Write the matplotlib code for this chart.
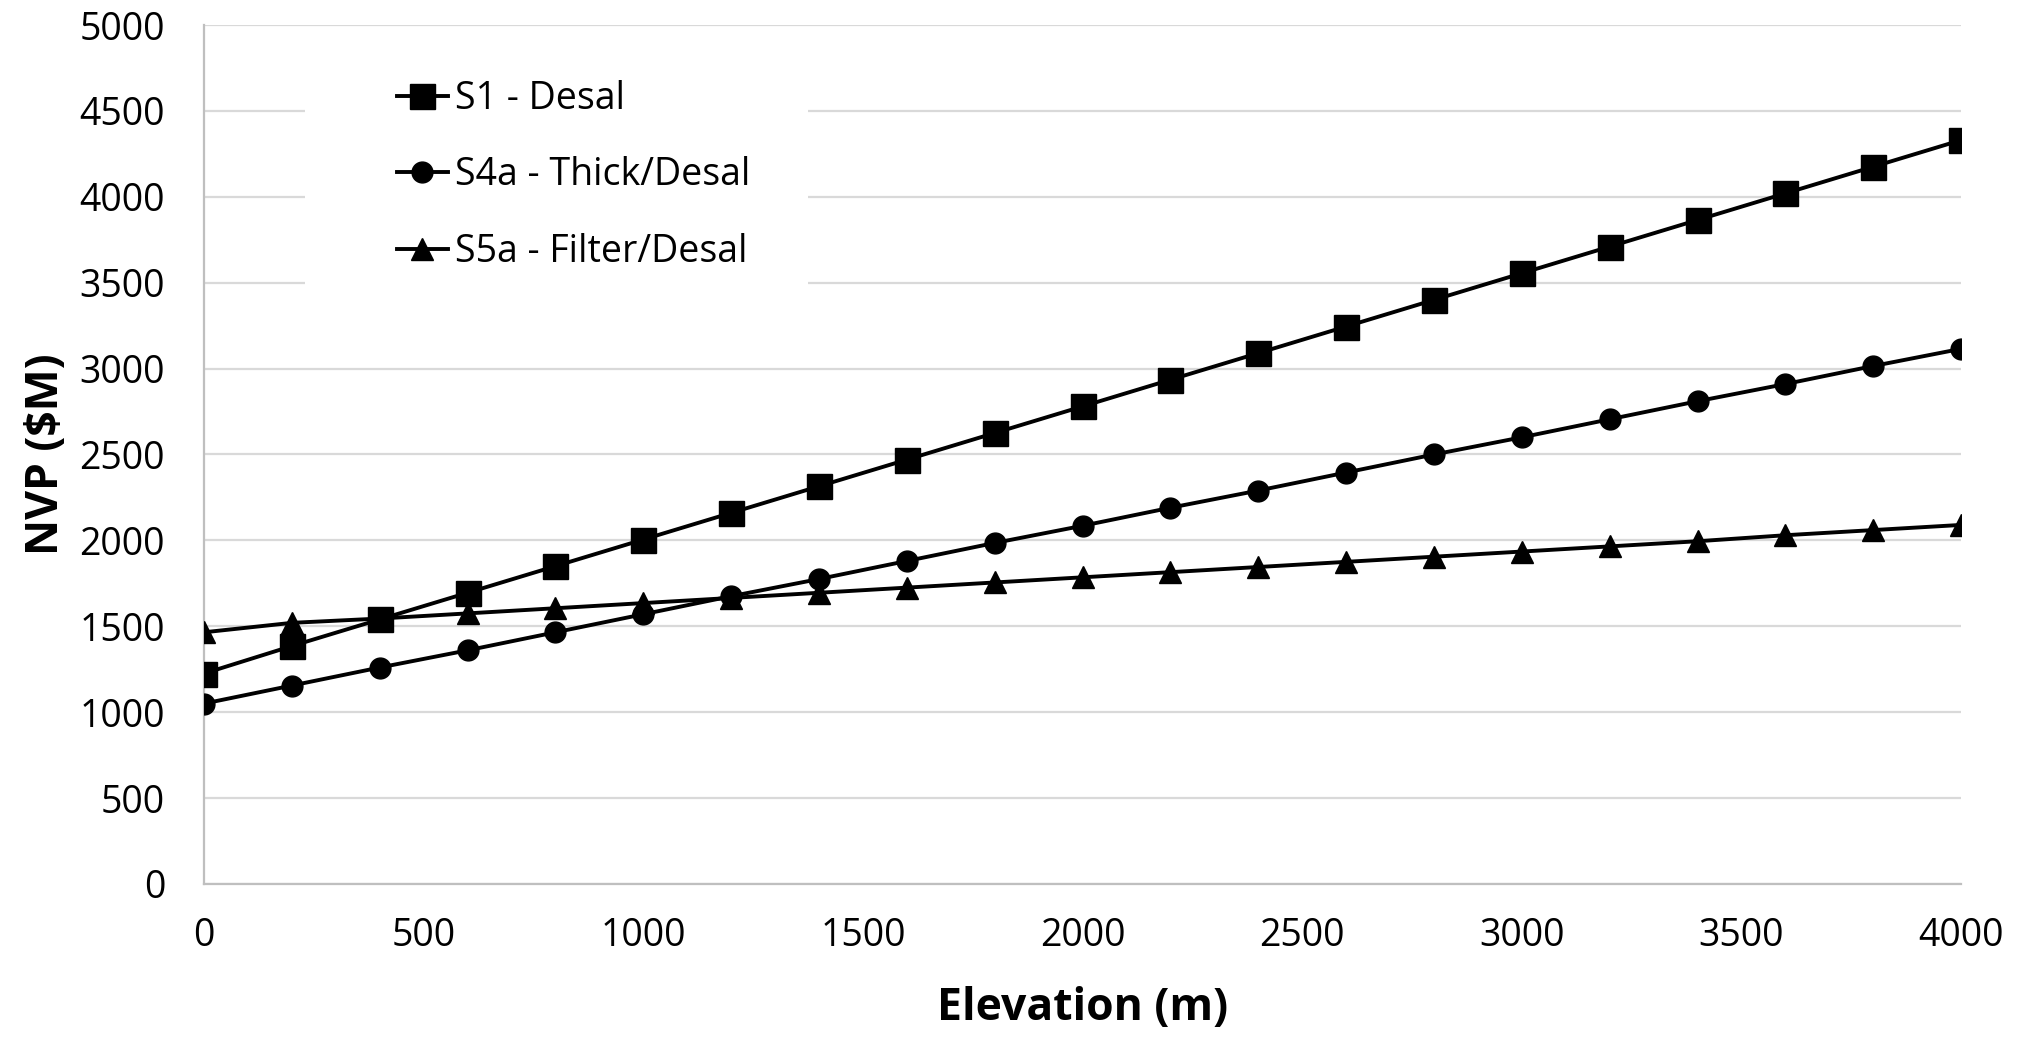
import matplotlib.pyplot as plt
import matplotlib.patches as patches

plt.rcParams['font.family'] = ['Open Sans', 'DejaVu Sans']

# ----- data ----- #
elevation = [0, 200, 400, 600, 800, 1000, 1200, 1400, 1600, 1800, 2000,
             2200, 2400, 2600, 2800, 3000, 3200, 3400, 3600, 3800, 4000]

s1_desal = [1225, 1385, 1540, 1695, 1850, 2005, 2160, 2315, 2470, 2625, 2780,
            2935, 3090, 3245, 3400, 3555, 3710, 3865, 4020, 4175, 4330]

s4a_thick_desal = [1050, 1155, 1260, 1360, 1465, 1570, 1675, 1775, 1880, 1985, 2085,
                   2190, 2290, 2395, 2500, 2600, 2705, 2810, 2910, 3015, 3115]

s5a_filter_desal = [1465, 1520, 1545, 1575, 1605, 1635, 1665, 1695, 1725, 1755, 1785,
                    1815, 1845, 1875, 1905, 1935, 1965, 1995, 2030, 2060, 2090]

x_ticks = list(range(0, 4001, 500))
y_ticks = list(range(0, 5001, 500))

# ----- figure ----- #
fig = plt.figure(figsize=(20.36, 10.38), dpi=100)
ax = fig.add_axes([0.1002, 0.1484, 0.8630, 0.8275])

ax.plot(elevation, s1_desal, color='black', lw=2.8, marker='s', ms=18,
        label='S1 - Desal', zorder=3)
ax.plot(elevation, s4a_thick_desal, color='black', lw=2.8, marker='o', ms=15,
        label='S4a - Thick/Desal', zorder=3)
ax.plot(elevation, s5a_filter_desal, color='black', lw=2.8, marker='^', ms=16,
        label='S5a - Filter/Desal', zorder=3)

ax.set_xlim(0, 4000)
ax.set_ylim(0, 5000)
ax.set_xticks(x_ticks)
ax.set_yticks(y_ticks)
ax.tick_params(axis='both', length=0, labelsize=27, colors='black')
ax.tick_params(axis='x', pad=24)
ax.tick_params(axis='y', pad=28)

ax.grid(axis='y', color='#d9d9d9', lw=1.6)
ax.set_axisbelow(True)
for side in ['top', 'right']:
    ax.spines[side].set_visible(False)
for side in ['left', 'bottom']:
    ax.spines[side].set_color('#bfbfbf')
    ax.spines[side].set_linewidth(1.6)

ax.set_xlabel('Elevation (m)', fontsize=32, fontweight='bold', labelpad=22)
ax.set_ylabel('NVP ($M)', fontsize=32, fontweight='bold', labelpad=8)

# white legend area, as in the spreadsheet chart
ax.add_patch(patches.Rectangle((0.0575, 0.68), 0.2863, 0.3025, transform=ax.transAxes,
                               facecolor='white', edgecolor='none', zorder=1))
ax.legend(loc='center left', bbox_to_anchor=(0.1098, 0.825), frameon=False,
          fontsize=27, borderpad=0, borderaxespad=0, handlelength=1.36,
          handletextpad=0.2, labelspacing=1.03)

fig.savefig('out.png', dpi=100)
